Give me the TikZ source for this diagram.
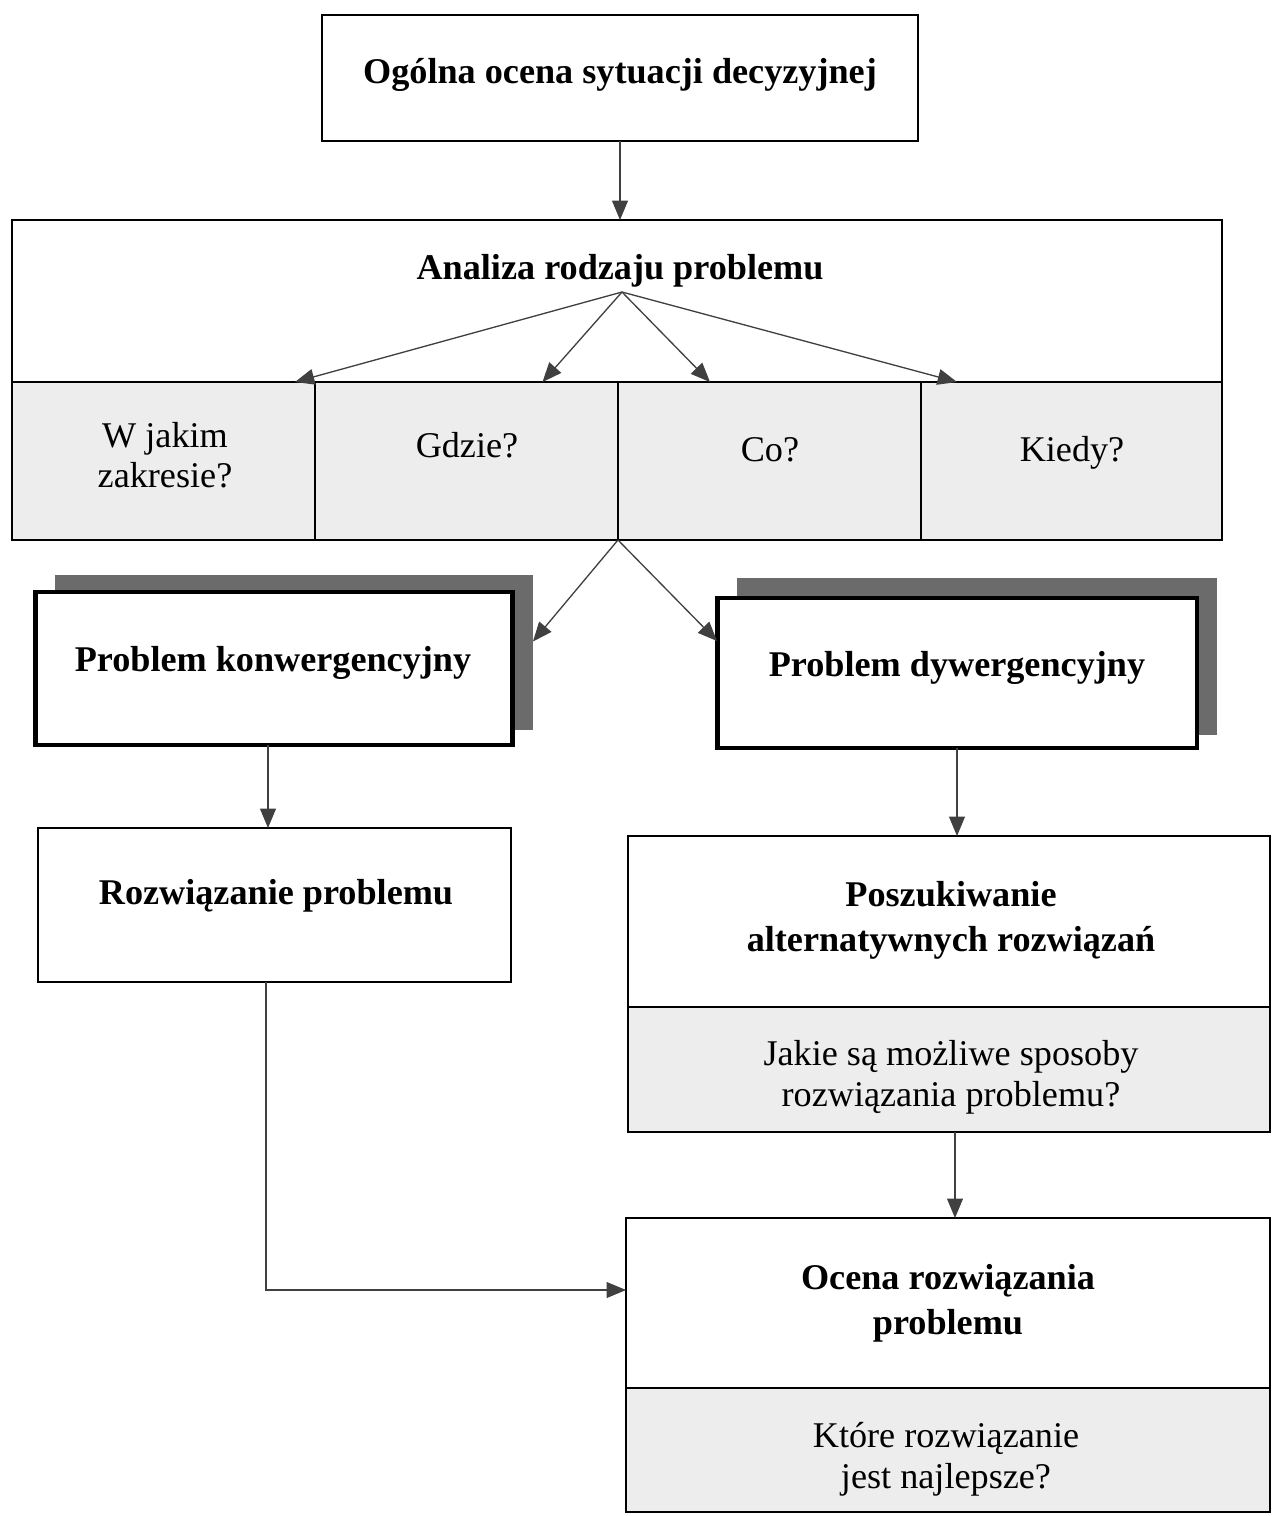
\documentclass[tikz,border=0pt]{standalone}
\usepackage{fontspec}
\setmainfont{Liberation Serif}
\usetikzlibrary{arrows.meta,calc}
\begin{document}
\begin{tikzpicture}[x=0.02cm,y=-0.02cm,
  box/.style={draw=black, line width=1.4pt, inner sep=0pt, outer sep=0pt, fill=white},
  cell/.style={box, fill=black!7},
  shadowbox/.style={fill=black!58, inner sep=0pt, outer sep=0pt},
  lbl/.style={font=\fontsize{20.6}{25.5}\selectfont\bfseries, align=center, inner sep=0pt},
  txt/.style={font=\fontsize{20.6}{23.5}\selectfont, align=center, inner sep=0pt},
  arr/.style={draw=black!75, line width=0.75pt, -{Triangle[length=11pt,width=9pt]}},
  ]
\useasboundingbox (0,0) rectangle (1272,1516);

% top box
\node[box, minimum width=11.92cm, minimum height=2.52cm] (top) at (620,78) {};
\node[lbl] (topT) at (620,75) {Ogólna ocena sytuacji decyzyjnej};

% analysis box
\node[box, minimum width=24.2cm, minimum height=3.24cm] (analiza) at (617,301) {};
\node[lbl] (analizaT) at (620,271) {Analiza rodzaju problemu};
\draw[arr] (top.south) -- (top.south |- analiza.north);

% cells
\node[cell, line width=1.6pt, minimum width=6.06cm, minimum height=3.16cm] (c1) at (163.5,461) {};
\node[cell, line width=1.6pt, minimum width=6.06cm, minimum height=3.16cm] (c2) at (466.5,461) {};
\node[cell, line width=1.6pt, minimum width=6.06cm, minimum height=3.16cm] (c3) at (769.5,461) {};
\node[cell, line width=1.6pt, minimum width=6.02cm, minimum height=3.16cm] (c4) at (1071.5,461) {};
\node[txt, font=\fontsize{20.6}{22.5}\selectfont] (c1T) at (165,455) {W jakim\\zakresie?};
\node[txt] (c2T) at (467,445) {Gdzie?};
\node[txt] (c3T) at (770,450) {Co?};
\node[txt] (c4T) at (1072,453) {Kiedy?};

\coordinate (apex) at (622,292);
\draw[arr] (apex) -- ($(c1.north east)+(-20,0)$);
\draw[arr] (apex) -- ($(c2.north)+(76,0)$);
\draw[arr] (apex) -- ($(c3.north)+(-59.5,0)$);
\draw[arr] (apex) -- ($(c4.north west)+(36,0)$);

% problem boxes with shadows
\node[shadowbox, minimum width=9.56cm, minimum height=3.1cm] (konwS) at (294,652.5) {};
\node[box, line width=2.8pt, minimum width=9.56cm, minimum height=3.06cm] (konw) at (274,668.5) {};
\node[lbl] (konwT) at (273,663) {Problem konwergencyjny};

\node[shadowbox, minimum width=9.6cm, minimum height=3.14cm] (dywS) at (977,656.5) {};
\node[box, line width=2.8pt, minimum width=9.6cm, minimum height=3.0cm] (dyw) at (957,673) {};
\node[lbl] (dywT) at (957,668) {Problem dywergencyjny};

\draw[arr] (c2.south east) -- ($(konwS.east)+(0,-11)$);
\draw[arr] (c2.south east) -- ($(dyw.west)+(0,-32)$);

% solution box
\node[box, line width=0.7pt, minimum width=9.46cm, minimum height=3.08cm] (rozw) at (274.5,905) {};
\node[lbl] (rozwT) at (276,896) {Rozwiązanie problemu};
\draw[arr] ([xshift=-0.12cm]konw.south) -- ([xshift=-0.12cm]konw.south |- rozw.north);

% search box
\node[box, line width=1.1pt, minimum width=12.84cm, minimum height=3.42cm] (poszT) at (949,921.5) {};
\node[cell, line width=1.1pt, minimum width=12.84cm, minimum height=2.5cm] (poszB) at (949,1069.5) {};
\node[lbl] (poszTT) at (951,920.5) {Poszukiwanie\\alternatywnych rozwiązań};
\node[txt] (poszBT) at (951,1077) {Jakie są możliwe sposoby\\rozwiązania problemu?};
\draw[arr] (dyw.south) -- (dyw.south |- poszT.north);

% evaluation box
\node[box, line width=1.4pt, minimum width=12.88cm, minimum height=3.4cm] (ocenaT) at (948,1303) {};
\node[cell, line width=1.4pt, minimum width=12.88cm, minimum height=2.48cm] (ocenaB) at (948,1450) {};
\node[lbl] (ocenaTT) at (948,1303.5) {Ocena rozwiązania\\problemu};
\node[txt] (ocenaBT) at (946,1459) {Które rozwiązanie\\jest najlepsze?};
\draw[arr] ([xshift=0.12cm]poszB.south) -- ([xshift=0.12cm]poszB.south |- ocenaT.north);

\draw[arr, line width=0.6pt] ([xshift=-0.17cm]rozw.south) |- ([yshift=0.26cm]ocenaT.west);
\end{tikzpicture}
\end{document}
